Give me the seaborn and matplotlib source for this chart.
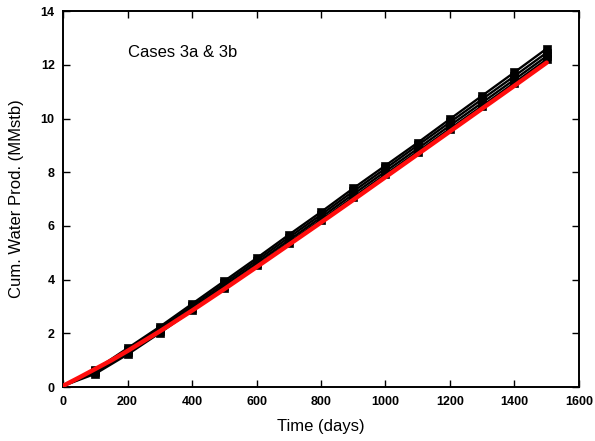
import numpy as np
import pandas as pd
import matplotlib
matplotlib.use("Agg")
import matplotlib.pyplot as plt
import seaborn as sns

time_black = [0, 100, 200, 300, 400, 500, 600, 700, 800, 900, 1000, 1100, 1200, 1300, 1400, 1500]
case_1 = [0.05, 0.65, 1.45, 2.25, 3.10, 3.95, 4.80, 5.67, 6.52, 7.40, 8.25, 9.10, 9.98, 10.85, 11.72, 12.60]
case_2 = [0.05, 0.60, 1.38, 2.18, 3.02, 3.86, 4.71, 5.57, 6.42, 7.29, 8.14, 9.00, 9.86, 10.72, 11.58, 12.45]
case_3 = [0.05, 0.55, 1.30, 2.10, 2.94, 3.78, 4.62, 5.47, 6.32, 7.18, 8.03, 8.88, 9.74, 10.59, 11.45, 12.32]
case_4 = [0.05, 0.50, 1.22, 2.02, 2.86, 3.69, 4.53, 5.38, 6.22, 7.07, 7.92, 8.77, 9.62, 10.47, 11.33, 12.20]

time_red = [0, 50, 100, 150, 200, 300, 400, 500, 600, 700, 800, 900, 1000, 1100, 1200, 1300, 1400, 1500]
red_vals = [0.05, 0.36, 0.68, 1.0, 1.35, 2.08, 2.85, 3.65, 4.47, 5.30, 6.13, 6.97, 7.82, 8.67, 9.52, 10.37, 11.22, 12.08]

xticks = [0, 200, 400, 600, 800, 1000, 1200, 1400, 1600]
yticks = [0, 2, 4, 6, 8, 10, 12, 14]

sns.set_theme(style="ticks")
plt.rcParams['font.family'] = ['Liberation Sans', 'DejaVu Sans']
plt.rcParams['text.color'] = 'black'
plt.rcParams['axes.labelcolor'] = 'black'

fig = plt.figure(figsize=(5.95, 4.41), dpi=100)
ax = fig.add_axes([0.106, 0.122, 0.867, 0.853])

frames = []
for name, vals in [("c1", case_1), ("c2", case_2), ("c3", case_3), ("c4", case_4)]:
    frames.append(pd.DataFrame({"time": time_black, "val": vals, "case": name}))
black_df = pd.concat(frames, ignore_index=True)

sns.lineplot(data=black_df, x="time", y="val", units="case", estimator=None,
             color="black", linewidth=1.7, ax=ax, legend=False)
mk = black_df[black_df["time"] > 0]
sns.scatterplot(data=mk, x="time", y="val", marker="s", color="black", s=36,
                edgecolor="black", ax=ax, legend=False, zorder=3)

red_df = pd.DataFrame({"time": time_red, "val": red_vals})
sns.lineplot(data=red_df, x="time", y="val", color="#ff0d0d", linewidth=3.2, ax=ax,
             legend=False, zorder=4)

ax.set_xlim(0, 1600)
ax.set_ylim(0, 14)
ax.set_xticks(xticks)
ax.set_yticks(yticks)
ax.tick_params(direction="in", length=5, width=1, top=True, right=True,
               labelsize=9, colors="black")
for lab in ax.get_xticklabels() + ax.get_yticklabels():
    lab.set_fontweight("bold")
ax.tick_params(axis="x", labeltop=False, pad=6)
ax.tick_params(axis="y", labelright=False, pad=6)
for sp in ax.spines.values():
    sp.set_linewidth(1.4)
    sp.set_color("black")

ax.set_xlabel("Time (days)", fontsize=12, labelpad=8)
ax.set_ylabel("Cum. Water Prod. (MMstb)", fontsize=12, labelpad=12)
ax.text(200, 12.45, "Cases 3a & 3b", fontsize=12, va="center", ha="left")

fig.savefig("out.png", dpi=100)
